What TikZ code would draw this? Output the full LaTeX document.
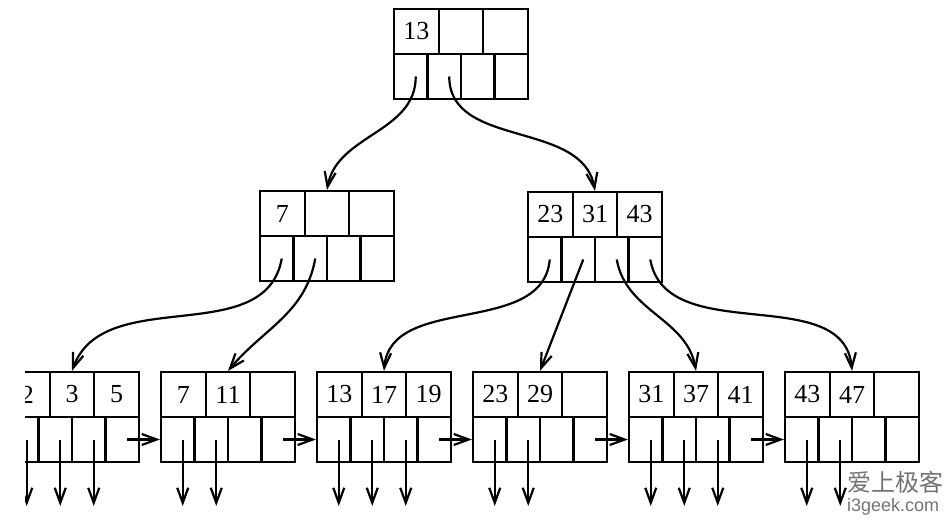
\documentclass[tikz,border=0pt]{standalone}
\usepackage{fontspec}
\setmainfont{Liberation Serif}
\newfontfamily\cjkfont{Noto Sans CJK SC}
\newfontfamily\urlfont{Liberation Sans}
\usetikzlibrary{arrows.meta}

\begin{document}
\begin{tikzpicture}[x=1pt, y=-1pt, line width=2.2pt,
	arrows={-Straight Barb[length=15pt,width=11pt]},
	key/.style={draw, minimum width=44.67pt, minimum height=45pt, inner sep=0pt, font=\fontsize{26}{26}\selectfont},
	ptr/.style={draw, minimum width=33.5pt, minimum height=45pt, inner sep=0pt},
	wmark/.style={text=black!55, anchor=north west, inner sep=0pt}]
	\useasboundingbox (0,0) rectangle (949,522);
	\clip (25,0) rectangle (949,522);

	\foreach \n/\bx/\by/\ka/\kb/\kc in {R/394/9/13/{}/{}, A/260/191/7/{}/{}, B/528/192/23/31/43,
		L1/5/372/2/3/5, L2/161/372/7/11/{}, L3/317/372/13/17/19,
		L4/473/372/23/29/{}, L5/629/372/31/37/41, L6/785/372/43/47/{}} {
		\begin{scope}[shift={(\bx,\by)}]
			\node[key] (\n k1) at (22.33,22.5) {\ka};
			\node[key] (\n k2) at (67,22.5) {\kb};
			\node[key] (\n k3) at (111.67,22.5) {\kc};
			\foreach \i in {1,...,4} {
				\node[ptr] (\n p\i) at ({(\i-0.5)*33.5},67.5) {};
				\coordinate (\n q\i) at ({(\i-0.5)*33.5+5},67.5);
				\coordinate (\n d\i) at ({(\i-0.5)*33.5+5},134);
			}
		\end{scope}
	}

	\draw (Rq1) to[out=-90, in=80] (Ak2.north);
	\draw (Rq2) to[out=-90, in=100] (Bk2.north);
	\draw (Aq1) to[out=-100, in=70] (L1k2.north);
	\draw (Aq2) to[out=-100, in=50] (L2k2.north);
	\draw (Bq1) to[out=-95, in=85] (L3k2.north);
	\draw (Bq2) -- (L4k2.north);
	\draw (Bq3) to[out=-80, in=100] (L5k2.north);
	\draw (Bq4) to[out=-80, in=95] (L6k2.north);

	\foreach \n/\m in {L1/3, L2/2, L3/3, L4/2, L5/3, L6/2}
		\foreach \i in {1,...,\m}
			\draw (\n q\i) -- (\n d\i);
	\foreach \a/\b in {L1/L2, L2/L3, L3/L4, L4/L5, L5/L6}
		\draw (\a q4) -- (\b p1.west);

	\node[wmark, font=\cjkfont\fontsize{24}{24}\selectfont] (wm) at (846,470) {爱上极客};
	\node[wmark, font=\urlfont\fontsize{18}{18}\selectfont] (wmurl) at (846,497) {i3geek.com};
\end{tikzpicture}
\end{document}
